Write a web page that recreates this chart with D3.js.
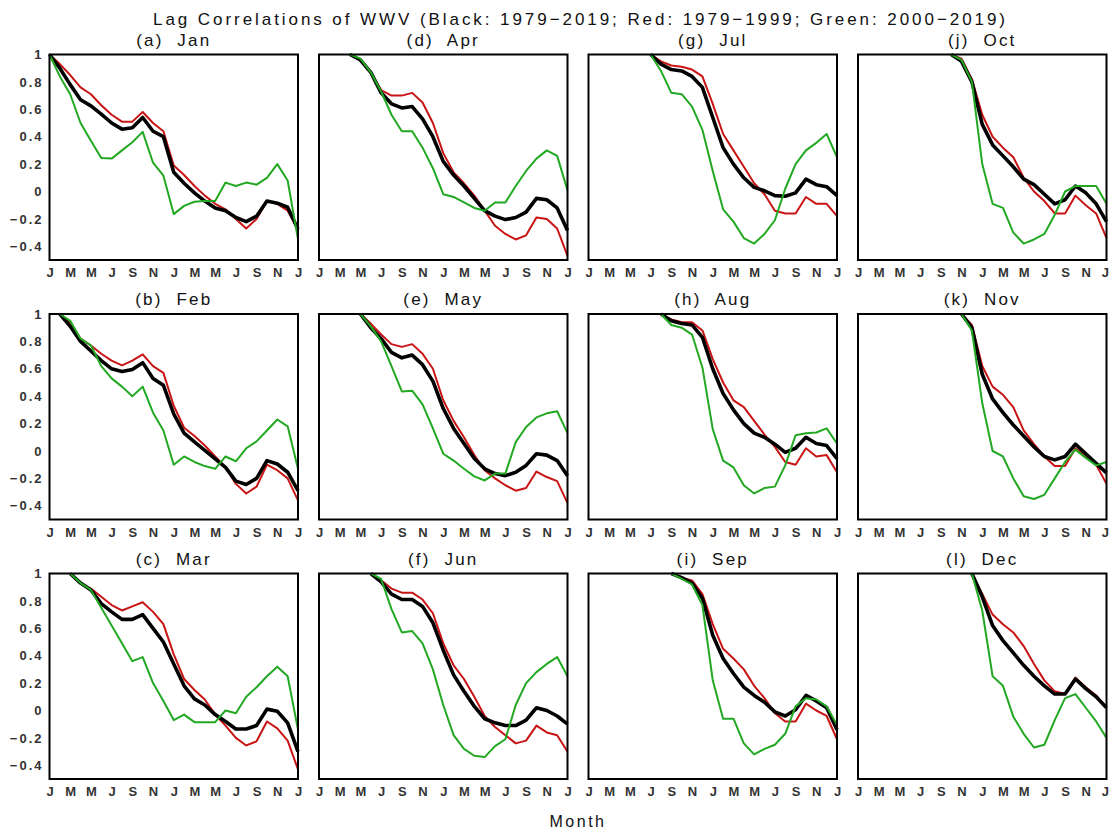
<!DOCTYPE html>
<html>
<head>
<meta charset="utf-8">
<script src="https://cdn.jsdelivr.net/npm/d3@7"></script>
<style>
  body { margin: 0; background: #fff; }
  text { font-family: "Liberation Sans", Arial, sans-serif; }
</style>
</head>
<body>
<svg id="chart" width="1109" height="831"></svg>
<script>
// panel names, tick labels
const monthNames = ["Jan","Feb","Mar","Apr","May","Jun","Jul","Aug","Sep","Oct","Nov","Dec"];
const panelLetters = ["a","b","c","d","e","f","g","h","i","j","k","l"];
const xTickLabels = ["J","M","M","J","S","N","J","M","M","J","S","N","J"];
const yTickValues = [-0.4, -0.2, 0, 0.2, 0.4, 0.6, 0.8, 1];

// lag correlations, each panel starts at its own month and runs to Jan (month 24)
// Black: 1979-2019
const blackCorr = [
  [1.0,0.90,0.78,0.67,0.625,0.565,0.50,0.455,0.465,0.54,0.44,0.40,0.14,0.06,-0.01,-0.07,-0.12,-0.14,-0.19,-0.22,-0.18,-0.07,-0.085,-0.115,-0.275],
  [1.0,0.91,0.80,0.73,0.66,0.60,0.58,0.595,0.645,0.53,0.48,0.27,0.13,0.066,0.005,-0.057,-0.12,-0.22,-0.245,-0.20,-0.07,-0.095,-0.155,-0.29],
  [1.0,0.93,0.88,0.78,0.72,0.665,0.665,0.70,0.60,0.50,0.34,0.18,0.085,0.04,-0.03,-0.08,-0.135,-0.135,-0.11,0.01,-0.005,-0.09,-0.30],
  [1.0,0.96,0.87,0.72,0.64,0.61,0.62,0.53,0.40,0.22,0.12,0.04,-0.05,-0.14,-0.18,-0.205,-0.19,-0.15,-0.05,-0.06,-0.12,-0.285],
  [1.0,0.90,0.82,0.72,0.68,0.70,0.63,0.51,0.31,0.165,0.055,-0.055,-0.13,-0.165,-0.18,-0.155,-0.105,-0.02,-0.03,-0.07,-0.18],
  [1.0,0.94,0.85,0.81,0.81,0.76,0.64,0.44,0.26,0.14,0.03,-0.06,-0.09,-0.11,-0.11,-0.07,0.02,0.0,-0.04,-0.10],
  [1.0,0.93,0.89,0.88,0.84,0.76,0.54,0.32,0.20,0.10,0.03,0.005,-0.03,-0.035,-0.01,0.09,0.05,0.035,-0.03],
  [1.0,0.95,0.93,0.92,0.83,0.60,0.42,0.30,0.20,0.13,0.10,0.05,-0.01,0.02,0.10,0.055,0.04,-0.055],
  [1.0,0.97,0.93,0.82,0.55,0.38,0.27,0.17,0.11,0.06,-0.01,-0.04,0.005,0.11,0.07,0.02,-0.14],
  [1.0,0.95,0.80,0.49,0.34,0.26,0.18,0.09,0.05,-0.02,-0.09,-0.06,0.04,-0.01,-0.09,-0.22],
  [1.0,0.90,0.56,0.38,0.28,0.19,0.11,0.03,-0.04,-0.065,-0.04,0.05,-0.02,-0.09,-0.16],
  [1.0,0.83,0.62,0.51,0.42,0.33,0.25,0.18,0.12,0.12,0.23,0.16,0.10,0.02]
];
// Red: 1979-1999
const redCorr = [
  [1.0,0.93,0.85,0.76,0.71,0.63,0.56,0.51,0.51,0.58,0.50,0.44,0.19,0.12,0.04,-0.03,-0.09,-0.13,-0.20,-0.27,-0.20,-0.07,-0.09,-0.14,-0.28],
  [1.0,0.94,0.82,0.77,0.71,0.66,0.625,0.66,0.705,0.62,0.57,0.33,0.17,0.11,0.04,-0.04,-0.12,-0.24,-0.31,-0.26,-0.10,-0.14,-0.20,-0.36],
  [1.0,0.93,0.89,0.83,0.77,0.73,0.76,0.79,0.72,0.63,0.41,0.23,0.15,0.08,-0.03,-0.11,-0.20,-0.255,-0.225,-0.08,-0.13,-0.22,-0.43],
  [1.0,0.96,0.87,0.74,0.70,0.70,0.72,0.65,0.50,0.28,0.14,0.06,-0.03,-0.14,-0.25,-0.31,-0.35,-0.32,-0.19,-0.20,-0.27,-0.47],
  [1.0,0.93,0.85,0.78,0.76,0.78,0.71,0.60,0.37,0.22,0.10,-0.03,-0.14,-0.20,-0.25,-0.29,-0.27,-0.15,-0.19,-0.22,-0.38],
  [1.0,0.95,0.89,0.86,0.86,0.81,0.71,0.49,0.33,0.23,0.10,-0.04,-0.12,-0.18,-0.24,-0.22,-0.11,-0.16,-0.18,-0.30],
  [1.0,0.95,0.92,0.91,0.89,0.84,0.64,0.42,0.30,0.18,0.06,-0.02,-0.14,-0.16,-0.16,-0.04,-0.09,-0.09,-0.18],
  [1.0,0.96,0.94,0.94,0.88,0.67,0.50,0.37,0.32,0.22,0.12,0.03,-0.08,-0.10,0.02,-0.04,-0.03,-0.155],
  [1.0,0.97,0.95,0.85,0.63,0.45,0.38,0.30,0.18,0.09,-0.02,-0.08,-0.08,0.05,0.0,-0.04,-0.21],
  [1.0,0.97,0.82,0.56,0.40,0.32,0.25,0.10,0.0,-0.07,-0.16,-0.16,-0.03,-0.10,-0.16,-0.34],
  [1.0,0.92,0.62,0.47,0.41,0.32,0.15,0.05,-0.04,-0.11,-0.11,0.02,-0.04,-0.10,-0.24],
  [1.0,0.85,0.70,0.63,0.57,0.47,0.34,0.22,0.14,0.12,0.24,0.17,0.11,0.02]
];
// Green: 2000-2019
const greenCorr = [
  [1.0,0.84,0.71,0.50,0.37,0.245,0.24,0.30,0.36,0.435,0.21,0.115,-0.165,-0.105,-0.075,-0.07,-0.07,0.065,0.04,0.065,0.05,0.10,0.20,0.08,-0.35],
  [1.0,0.95,0.82,0.77,0.62,0.53,0.47,0.40,0.47,0.28,0.15,-0.10,-0.04,-0.08,-0.11,-0.13,-0.04,-0.075,0.02,0.07,0.15,0.23,0.18,-0.13],
  [1.0,0.93,0.88,0.75,0.62,0.49,0.36,0.39,0.20,0.07,-0.07,-0.03,-0.085,-0.085,-0.085,0.0,-0.02,0.10,0.17,0.25,0.32,0.25,-0.14],
  [1.0,0.97,0.87,0.73,0.56,0.44,0.44,0.32,0.17,-0.02,-0.04,-0.08,-0.12,-0.14,-0.08,-0.08,0.04,0.15,0.24,0.30,0.26,0.01],
  [1.0,0.91,0.80,0.62,0.435,0.44,0.34,0.165,-0.02,-0.07,-0.13,-0.185,-0.215,-0.165,-0.165,0.065,0.175,0.245,0.275,0.29,0.13],
  [1.0,0.96,0.74,0.57,0.58,0.49,0.30,0.04,-0.18,-0.28,-0.33,-0.34,-0.26,-0.21,0.04,0.20,0.28,0.34,0.39,0.25],
  [1.0,0.88,0.72,0.71,0.62,0.45,0.15,-0.13,-0.22,-0.34,-0.38,-0.31,-0.21,0.02,0.20,0.30,0.355,0.42,0.25],
  [1.0,0.92,0.90,0.85,0.61,0.16,-0.07,-0.12,-0.25,-0.31,-0.27,-0.26,-0.105,0.115,0.13,0.135,0.165,0.055],
  [1.0,0.96,0.92,0.77,0.22,-0.06,-0.06,-0.24,-0.32,-0.28,-0.25,-0.17,0.03,0.09,0.08,0.03,-0.105],
  [1.0,0.96,0.80,0.20,-0.09,-0.12,-0.30,-0.38,-0.35,-0.31,-0.17,0.0,0.04,0.04,0.04,-0.09],
  [1.0,0.88,0.35,0.0,-0.04,-0.20,-0.33,-0.35,-0.32,-0.20,-0.08,0.01,-0.05,-0.105,-0.08],
  [1.0,0.73,0.25,0.18,-0.045,-0.17,-0.27,-0.25,-0.07,0.09,0.12,0.02,-0.08,-0.20]
];

const svg = d3.select("#chart");
svg.append("rect").attr("width", 1109).attr("height", 831).attr("fill", "#fff");

// layout of the 3x4 grid (panels go down the columns)
const left0 = 49.5, colStep = 269.5, plotW = 248.5;
const top0 = 54.5, rowStep = 259.5, plotH = 205.5;

const x = d3.scaleLinear().domain([0, 24]).range([0, plotW]);
const y = d3.scaleLinear().domain([-0.5, 1]).range([plotH, 0]);

// main title
svg.append("text")
  .attr("x", 153).attr("y", 25)
  .attr("font-size", 17)
  .attr("fill", "#111")
  .attr("textLength", 852)
  .attr("lengthAdjust", "spacing")
  .text("Lag Correlations of WWV (Black: 1979\u22122019; Red: 1979\u22121999; Green: 2000\u22122019)");

const series = [
  {data: redCorr, color: "#c81414", width: 2},
  {data: blackCorr, color: "#000", width: 3.6},
  {data: greenCorr, color: "#22a822", width: 2}
];

monthNames.forEach(function(m, i) {
  const col = Math.floor(i / 3), row = i % 3;
  const g = svg.append("g")
    .attr("transform", "translate(" + (left0 + col * colStep) + "," + (top0 + row * rowStep) + ")");

  // panel title
  g.append("text")
    .attr("x", plotW / 2).attr("y", -9)
    .attr("text-anchor", "middle")
    .attr("font-size", 17)
    .attr("fill", "#111")
    .style("letter-spacing", "2.2px")
    .style("white-space", "pre")
    .text("(" + panelLetters[i] + ")  " + m);

  // x axis labels
  const xAxis = g.append("g")
    .attr("transform", "translate(0," + plotH + ")")
    .call(d3.axisBottom(x)
      .tickValues(d3.range(0, 25, 2))
      .tickFormat((d, k) => xTickLabels[k])
      .tickSize(0)
      .tickPadding(8));
  xAxis.select(".domain").remove();
  xAxis.selectAll("text")
    .attr("font-family", "Liberation Sans, Arial, sans-serif")
    .attr("font-size", 13)
    .attr("font-weight", "bold")
    .attr("fill", "#333");
  // keep the last label of the right-most column inside the page
  if (col === 3) {
    xAxis.selectAll("text").filter((d, k) => k === xTickLabels.length - 1)
      .attr("text-anchor", "end")
      .attr("x", 2);
  }

  // y labels only on first column
  if (col === 0) {
    const yAxis = g.append("g")
      .call(d3.axisLeft(y)
        .tickValues(yTickValues)
        .tickFormat(d => d < 0 ? "\u2212" + (-d) : String(d))
        .tickSize(0)
        .tickPadding(6));
    yAxis.select(".domain").remove();
    yAxis.selectAll("text")
      .attr("font-family", "Liberation Sans, Arial, sans-serif")
      .attr("font-size", 13)
      .attr("font-weight", "bold")
      .attr("fill", "#333")
      .style("letter-spacing", "2px");
  }

  // the three curves
  series.forEach(function(s) {
    const line = d3.line()
      .x((d, k) => x(i + k))
      .y(d => y(d));
    g.append("path")
      .datum(s.data[i])
      .attr("d", line)
      .attr("fill", "none")
      .attr("stroke", s.color)
      .attr("stroke-width", s.width)
      .attr("stroke-linejoin", "round");
  });

  // frame
  g.append("rect")
    .attr("width", plotW).attr("height", plotH)
    .attr("fill", "none")
    .attr("stroke", "#000")
    .attr("stroke-width", 2);
});

// x axis title
svg.append("text")
  .attr("x", 578).attr("y", 827)
  .attr("text-anchor", "middle")
  .attr("font-size", 16)
  .attr("fill", "#111")
  .style("letter-spacing", "2.5px")
  .text("Month");
</script>
</body>
</html>
